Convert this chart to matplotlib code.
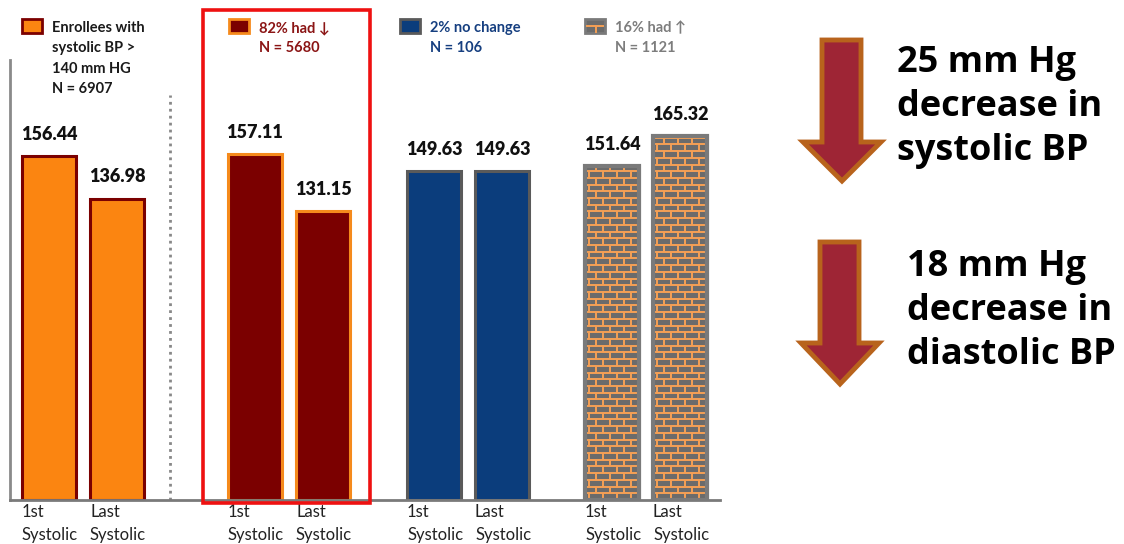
import matplotlib.pyplot as plt
from matplotlib.patches import Rectangle, Polygon
from matplotlib.collections import LineCollection
import numpy as np

plt.rcParams['font.family'] = ['Lato', 'DejaVu Sans']

# data
group_labels = ['Enrollees with\nsystolic BP >\n140 mm HG\nN = 6907',
                '82% had \u2193\nN = 5680',
                '2% no change\nN = 106',
                '16% had \u2191\nN = 1121']
first_sbp = [156.44, 157.11, 149.63, 151.64]
last_sbp = [136.98, 131.15, 149.63, 165.32]
bar_labels = ['1st\nSystolic', 'Last\nSystolic']
callouts = ['25 mm Hg\ndecrease in\nsystolic BP',
            '18 mm Hg\ndecrease in\ndiastolic BP']

# styles
face_colors = ['#fb8511', '#7b0000', '#0b3d7c', '#6b6b6b']
edge_colors = ['#7b0000', '#f58a1c', '#5a5a5a', '#7a7a7a']
legend_text_colors = ['#1a1a1a', '#8b1515', '#163f80', '#7d7d7d']
brick_orange = '#f5a055'

W, H = 1124, 544
fig = plt.figure(figsize=(W / 100, H / 100), dpi=100)
ax = fig.add_axes([10 / W, 44 / H, 710 / W, 440 / H])
ax.set_xlim(10, 720)
ax.set_ylim(0, 200)

group_left = [22, 228, 407, 585]
bar_gap = 68
bar_w = 54


def add_bricks(ax, bar, row_h=3.05, brick_w=14):
    x0, y0 = bar.get_x(), bar.get_y()
    w, h = bar.get_width(), bar.get_height()
    segs = []
    n_rows = int(h / row_h)
    for r in range(n_rows + 1):
        y = y0 + r * row_h
        top = min(y + row_h, y0 + h)
        segs.append([(x0, y), (x0 + w, y)])
        off = (brick_w / 2) * (r % 2) + 4
        for xv in np.arange(x0 + off, x0 + w, brick_w):
            segs.append([(xv, y), (xv, top)])
    lc = LineCollection(segs, colors=brick_orange, linewidths=1.4, zorder=3)
    ax.add_collection(lc)
    lc.set_clip_path(bar)
    ax.add_patch(Rectangle((x0, y0), w, h, fill=False, ec=edge_colors[3],
                           lw=3, zorder=4))


ticks, ticklabels = [], []
for i in range(len(first_sbp)):
    xs = [group_left[i], group_left[i] + bar_gap]
    vals = [first_sbp[i], last_sbp[i]]
    bars = ax.bar(xs, vals, width=bar_w, align='edge', color=face_colors[i],
                  edgecolor=edge_colors[i], linewidth=2.2, zorder=2)
    for b, v in zip(bars, vals):
        if i == 3:
            add_bricks(ax, b)
        ax.text(b.get_x() + bar_w / 2, v + 6, f'{v:.2f}', ha='center',
                va='bottom', fontsize=13, fontweight='heavy', color='#111111')
    ticks += xs
    ticklabels += bar_labels

ax.set_xticks(ticks)
ax.set_xticklabels(ticklabels, ha='left', fontsize=12, color='#222222',
                   linespacing=1.5)
ax.tick_params(axis='x', length=0, pad=3)
ax.set_yticks([])
for s in ['top', 'right']:
    ax.spines[s].set_visible(False)
ax.spines['left'].set_color('#8a8a8a')
ax.spines['left'].set_linewidth(2)
ax.spines['bottom'].set_color('#7a7a7a')
ax.spines['bottom'].set_linewidth(2)
ax.axvline(170, ymin=0, ymax=(500 - 95) / 440, color='#888888', lw=2,
           ls=(0, (1, 1.5)))

# overlay in pixel coordinates for annotations
ov = fig.add_axes([0, 0, 1, 1])
ov.set_xlim(0, W)
ov.set_ylim(H, 0)
ov.axis('off')
ov.patch.set_alpha(0)

ov.add_patch(Rectangle((203, 10), 167, 493, fill=False, ec='#ee1111', lw=2.6))

legend_x = [22, 229, 400, 585]
for i, lab in enumerate(group_labels):
    x = legend_x[i]
    ov.add_patch(Rectangle((x, 19), 20, 14, fc=face_colors[i],
                           ec=edge_colors[i], lw=2))
    if i == 3:
        ov.plot([x + 2, x + 18], [26, 26], color=brick_orange, lw=1.4)
        ov.plot([x + 11, x + 11], [26, 32], color=brick_orange, lw=1.4)
    ov.text(x + 30, 21, lab, ha='left', va='top', fontsize=10.5,
            fontweight='bold', color=legend_text_colors[i], linespacing=1.58)

arrow_shapes = [
    [(822, 40), (861, 40), (861, 142), (881, 142), (842, 181), (803, 142), (822, 142)],
    [(820, 242), (859, 242), (859, 343), (879, 343), (840, 384), (801, 343), (820, 343)],
]
callout_pos = [(897, 45), (907, 249)]
for pts, lab, (tx, ty) in zip(arrow_shapes, callouts, callout_pos):
    ov.add_patch(Polygon(pts, closed=True, fc='#9e2535', ec='#b8631c', lw=3.5,
                         joinstyle='miter'))
    ov.text(tx, ty, lab, ha='left', va='top', fontsize=26, fontweight='bold',
            family=['Open Sans', 'DejaVu Sans'], color='#000000',
            linespacing=1.3)

fig.savefig('out.png', dpi=100)
